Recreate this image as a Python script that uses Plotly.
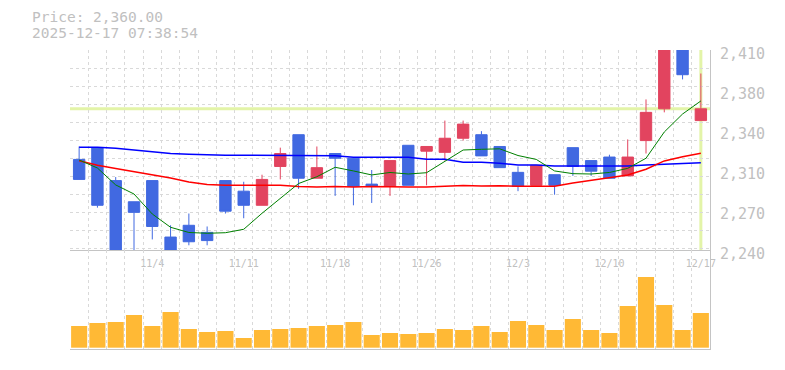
import plotly.graph_objects as go

# ---------------- data ----------------
dates = ["10/28", "10/29", "10/30", "10/31", "11/4", "11/5", "11/6", "11/7",
         "11/10", "11/11", "11/12", "11/13", "11/14", "11/17", "11/18", "11/19",
         "11/20", "11/21", "11/25", "11/26", "11/27", "11/28", "12/1", "12/2",
         "12/3", "12/4", "12/5", "12/8", "12/9", "12/10", "12/11", "12/12",
         "12/15", "12/16", "12/17"]

open_ = [2317, 2327, 2299, 2281, 2299, 2251, 2261, 2255, 2299, 2290, 2278, 2311,
         2338, 2301, 2322, 2318, 2296, 2294, 2329, 2324, 2323, 2335, 2338, 2328,
         2306, 2295, 2304, 2327, 2316, 2319, 2303, 2333, 2360, 2416, 2350]
high = [2328, 2327, 2302, 2281, 2299, 2261, 2271, 2260, 2299, 2298, 2304, 2327,
        2338, 2328, 2322, 2318, 2308, 2316, 2329, 2328, 2350, 2350, 2341, 2328,
        2311, 2312, 2304, 2327, 2316, 2321, 2334, 2368, 2418, 2418, 2390]
low = [2300, 2276, 2238, 2239, 2249, 2238, 2244, 2244, 2271, 2267, 2278, 2300,
       2292, 2301, 2286, 2278, 2280, 2286, 2295, 2295, 2316, 2333, 2320, 2310,
       2290, 2295, 2287, 2303, 2303, 2301, 2303, 2322, 2357, 2385, 2350]
close = [2300, 2278, 2238, 2272, 2260, 2239, 2247, 2248, 2273, 2278, 2300, 2322,
         2301, 2310, 2318, 2294, 2294, 2316, 2295, 2328, 2335, 2347, 2320, 2310,
         2294, 2312, 2295, 2311, 2307, 2301, 2319, 2357, 2416, 2389, 2360]

ma_short = [2316.5, 2309.7, 2295.3, 2287.6, 2270.6, 2259.3, 2254.9, 2254.2, 2254.7,
            2257.6, 2271.2, 2283.6, 2296.5, 2302.3, 2310.3, 2307.2, 2303.8, 2305.9,
            2304.6, 2305.7, 2315.7, 2325.0, 2325.6, 2326.0, 2320.3, 2317.0, 2307.2,
            2304.9, 2304.6, 2305.9, 2309.4, 2318.0, 2340.3, 2355.6, 2366.7]
ma_mid = [2315.9, 2312.0, 2309.3, 2306.7, 2304.2, 2301.2, 2297.8, 2295.7, 2295.0,
          2295.0, 2295.0, 2295.0, 2294.0, 2293.6, 2294.0, 2293.6, 2294.0, 2293.6,
          2293.6, 2293.6, 2294.0, 2294.9, 2294.4, 2294.7, 2294.1, 2293.8, 2294.1,
          2297.0, 2299.3, 2301.5, 2303.8, 2308.6, 2315.7, 2319.3, 2322.2]
ma_long = [2327.3, 2327.3, 2326.4, 2325.0, 2323.7, 2322.0, 2321.3, 2320.8, 2320.5,
           2320.5, 2320.5, 2320.5, 2320.2, 2320.2, 2320.2, 2318.8, 2318.8, 2318.8,
           2318.8, 2317.1, 2317.1, 2314.5, 2314.5, 2313.7, 2312.3, 2312.3, 2311.4,
           2311.4, 2311.4, 2311.4, 2311.4, 2312.3, 2312.8, 2313.7, 2314.2]

volume = [217, 247, 257, 327, 217, 357, 187, 157, 167, 97, 177, 187, 197, 217, 227,
          257, 127, 147, 137, 147, 187, 177, 217, 157, 267, 227, 177, 287, 177, 147,
          417, 707, 427, 177, 347]

x_labels = ["11/4", "11/11", "11/18", "11/26", "12/3", "12/10", "12/17"]
y_tick_text = ["2,240", "2,270", "2,310", "2,340", "2,380", "2,410"]
y_min, y_max = 2240, 2410
current_price = 2360.00
timestamp = "2025-12-17 07:38:54"

# ---------------- styles ----------------
RED = "#E2445F"
BLUE = "#4169E1"
VOL = "#FFB935"
GRID = "#d9d9d9"
AXIS = "#c4c4c4"
TXT = "#c0c0c0"
CROSS = "#E3F4A8"
MONO = "DejaVu Sans Mono"

idx = list(range(len(dates)))
x_tickvals = [dates.index(d) for d in x_labels]
n_y = len(y_tick_text)
y_tickvals = [y_min + (y_max - y_min) * k / (n_y - 1) for k in range(n_y)]

fig = go.Figure()
fig.add_trace(go.Scatter(x=idx, y=ma_long, mode="lines",
                         line=dict(color="#0000FF", width=1.5), xaxis="x", yaxis="y",
                         hoverinfo="skip"))
fig.add_trace(go.Scatter(x=idx, y=ma_mid, mode="lines",
                         line=dict(color="#FF0000", width=1.5), xaxis="x", yaxis="y",
                         hoverinfo="skip"))
fig.add_trace(go.Scatter(x=idx, y=ma_short, mode="lines",
                         line=dict(color="#008000", width=1), xaxis="x", yaxis="y",
                         hoverinfo="skip"))
fig.add_trace(go.Candlestick(
    x=idx, open=open_, high=high, low=low, close=close,
    increasing=dict(line=dict(color=RED, width=1), fillcolor=RED),
    decreasing=dict(line=dict(color=BLUE, width=1), fillcolor=BLUE),
    whiskerwidth=0, xaxis="x", yaxis="y"))
fig.add_trace(go.Bar(x=idx, y=volume, marker=dict(color=VOL, line=dict(width=0)),
                     xaxis="x2", yaxis="y2"))

# crosshair
fig.add_shape(type="line", xref="x domain", x0=0, x1=1, yref="y",
              y0=current_price, y1=current_price,
              line=dict(color=CROSS, width=3), layer="below")
fig.add_shape(type="line", xref="x", x0=idx[-1], x1=idx[-1], yref="y domain",
              y0=0, y1=1, line=dict(color=CROSS, width=3), layer="below")

minor_x = dict(tickmode="linear", tick0=-0.5, dtick=1, showgrid=True,
               gridcolor=GRID, griddash="dot", gridwidth=1, ticks="")

split = 99 / 299

annotations = [
    dict(text=f"Price: {current_price:,.2f}", xref="paper", yref="paper",
         x=-40 / 640, y=1 + 32.5 / 299, xanchor="left", yanchor="middle",
         showarrow=False, font=dict(family=MONO, size=14.5, color=TXT)),
    dict(text=timestamp, xref="paper", yref="paper",
         x=-40 / 640, y=1 + 16.5 / 299, xanchor="left", yanchor="middle",
         showarrow=False, font=dict(family=MONO, size=14.5, color=TXT)),
]
# price-axis labels (drawn slightly below their tick, as in the source chart)
for val, txt in zip(y_tickvals, y_tick_text):
    annotations.append(dict(text=txt, xref="paper", x=1, xanchor="left", xshift=8,
                            yref="y", y=val, yanchor="middle", yshift=-3.5,
                            showarrow=False,
                            font=dict(family=MONO, size=15, color=TXT)))

fig.update_layout(
    width=785, height=370,
    margin=dict(l=70, r=75, t=50, b=21),
    paper_bgcolor="white", plot_bgcolor="white",
    showlegend=False,
    bargap=0.12, boxgap=0.11,
    xaxis=dict(domain=[0, 1], anchor="y", range=[-0.5, 34.5],
               tickmode="array", tickvals=x_tickvals, ticktext=x_labels,
               ticks="outside", ticklen=4, tickcolor="rgba(0,0,0,0)",
               tickfont=dict(family=MONO, size=10, color=TXT),
               showgrid=False, minor=minor_x, zeroline=False,
               showline=True, linecolor=AXIS, linewidth=1,
               rangeslider=dict(visible=False)),
    yaxis=dict(domain=[split, 1], anchor="x", side="right",
               range=[y_min, y_max], showticklabels=False, ticks="",
               showgrid=False,
               minor=dict(tickmode="linear", tick0=y_max, dtick=15.3, showgrid=True,
                          gridcolor=GRID, griddash="dot", gridwidth=1, ticks=""),
               zeroline=False, showline=True, linecolor=AXIS, linewidth=1),
    xaxis2=dict(domain=[0, 1], anchor="y2", matches="x", range=[-0.5, 34.5],
                showticklabels=False, ticks="", showgrid=False, minor=minor_x,
                zeroline=False, showline=True, linecolor=AXIS, linewidth=1),
    yaxis2=dict(domain=[0, split], anchor="x2", side="right", range=[-13, 977],
                showticklabels=False, ticks="", showgrid=False, zeroline=False,
                showline=True, linecolor=AXIS, linewidth=1),
    annotations=annotations,
)

fig.write_html(
    "out.html", config={"displayModeBar": False},
    post_script=("document.documentElement.style.overflow='hidden';"
                 "document.body.style.margin='0';document.body.style.padding='0';"
                 "document.body.style.overflow='hidden';window.scrollTo(0,0);"))
